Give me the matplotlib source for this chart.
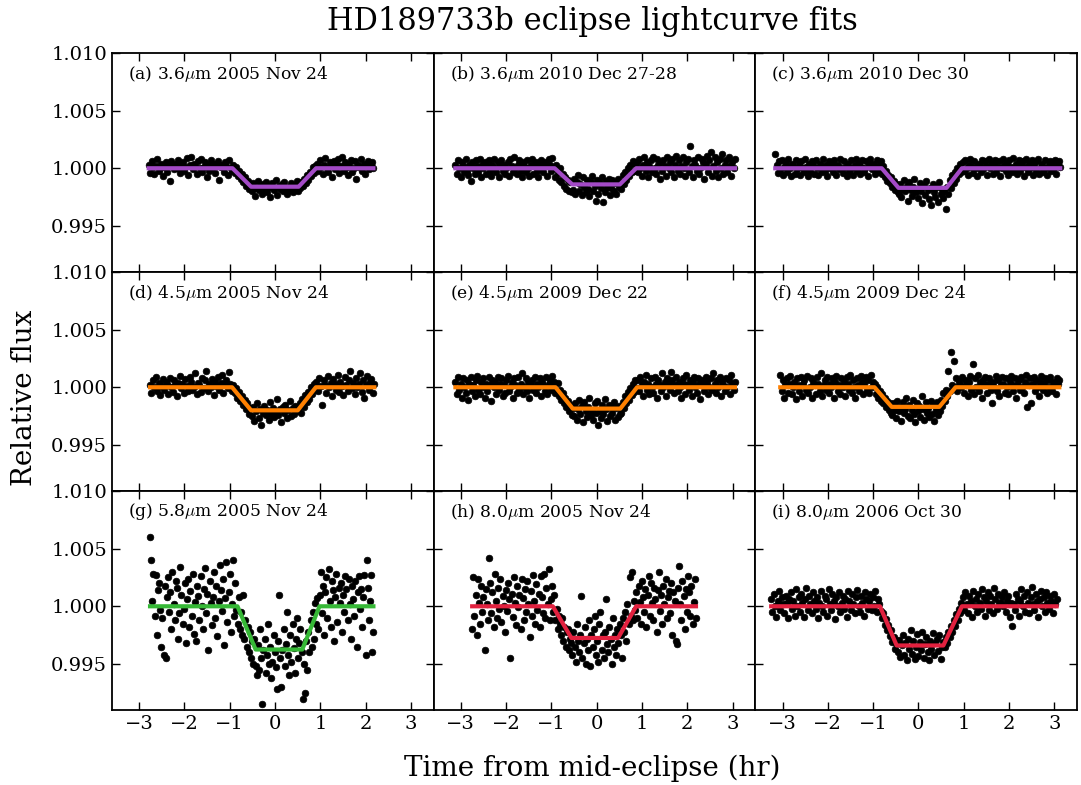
import numpy as np
import matplotlib.pyplot as plt
from matplotlib.ticker import FormatStrFormatter

plt.rcParams['font.family'] = 'DejaVu Serif'
plt.rcParams['mathtext.fontset'] = 'cm'

# panel titles
labels = [r'(a) 3.6$\mu$m 2005 Nov 24', r'(b) 3.6$\mu$m 2010 Dec 27-28', r'(c) 3.6$\mu$m 2010 Dec 30',
          r'(d) 4.5$\mu$m 2005 Nov 24', r'(e) 4.5$\mu$m 2009 Dec 22', r'(f) 4.5$\mu$m 2009 Dec 24',
          r'(g) 5.8$\mu$m 2005 Nov 24', r'(h) 8.0$\mu$m 2005 Nov 24', r'(i) 8.0$\mu$m 2006 Oct 30']
fit_colors = ['#A34AC6', '#A34AC6', '#A34AC6', '#FF8000', '#FF8000', '#FF8000',
              '#36B836', '#E2213F', '#E2213F']

# time span of each lightcurve (hr from mid-eclipse), evenly sampled
t_span_a = (-2.79, 2.17)
t_span_b = (-3.12, 3.05)
t_span_c = (-3.16, 3.13)
t_span_d = (-2.76, 2.19)
t_span_e = (-3.12, 3.05)
t_span_f = (-3.05, 3.11)
t_span_g = (-2.76, 2.17)
t_span_h = (-2.75, 2.19)
t_span_i = (-3.25, 3.05)

# binned flux, (relative flux - 1) in units of 1e-4
flux_a = [3, -4, 6, 1, -5, 2, 8, -2, 0, 4, -7, 1, 5, -3, 2, -11, 6, 3, -1, 4,
          0, 7, -4, 2, 5, -2, 1, 9, -6, 3, 10, -1, 4, 2, -5, 6, 0, 8, -3, 1,
          5, -8, 3, -2, 7, 0, 4, -4, 2, 6, -10, 1, 3, -3, 5, 2, -6, 7, 0, -2,
          3, -4, 1, -7, -2, -9, -5, -12, -8, -15, -11, -18, -14,
          -20, -13, -24, -17, -11, -19, -15, -22, -14, -18, -12, -21, -16, -25, -13, -17, -19, -10, -23, -15,
          -18, -14, -20, -12, -17, -22, -16, -19, -13, -21, -15, -18, -11, -20,
          -17, -12, -15, -9, -13, -6, -10, -3, -7, 1, -4, 2,
          4, -2, 7, 1, -5, 3, 9, 0, -3, 5, 2, -8, 6, -1, 3, 8, -4, 2, 10, -2,
          5, 1, -6, 4, 7, -3, 0, 6, -9, 3, 1, 8, -2, 4, -5, 2, 6, -1, 3, 5, 0]
flux_b = [3, -5, 7, 0, -8, 5, 2, -3, 8, -2, -6, 3, -11, 5, 0, -5, 7, 2, -3, 8,
          -8, 3, 0, 5, -5, 2, 7, -2, -7, 3, 8, 0, -3, 5, -8, 2, 7, -2, 3, -5,
          0, 5, -7, 8, 2, -3, 10, 0, -5, 3, 7, -2, -8, 5, 2, -3, 7, 0, -7, 3,
          8, -5, 2, 5, -2, -8, 3, 7, 0, -3, 5, 2, -7, 8, 3, -2, 9, 0,
          -8, 3, -4, -10, 0, -12, -5, -15, -8, -18, -10, -20, -12, -21,
          -19, -9, -22, -12, -6, -20, -14, -23, -8, -16, -21, -10, -18, -24, -12, -7, -20, -15, -28, -10,
          -22, -13, -17, -8, -29, -21, -11, -16, -9, -23, -17, -10, -20, -13, -22, -9, -16,
          -12, -18, -6, -14, -3, -10, 0, -7, 3, -3, 6, -2, 4,
          5, -3, 8, 0, -7, 3, 10, -2, 5, -8, 2, 7, -3, 10, 0, -5, 8, 3, -9, 5,
          -2, 7, 2, -7, 10, 0, 5, -3, 8, -8, 3, 11, -2, 7, -5, 2, 10, 0, -7, 5,
          8, -3, 19, 2, -8, 7, 3, -2, 10, -5, 0, 8, 5, -9, 3, 11, -3, 7, 14, -7,
          2, 10, -2, 5, -8, 8, 0, 12, -5, 3, 7, -3, 10, 2, -7, 5, 0, 8]
flux_c = [12, 3, -4, 6, -2, 7, -6, 1, 4, -3, 8, 0, -7, 4, 2, -5, 7, -1, 3, -6,
          6, 0, -3, 8, 1, -7, 4, -2, 6, 3, -5, 7, 0, -6, 4, 2, -3, 8, -2, 3,
          -7, 6, 0, 4, -3, 7, 2, -6, 3, -1, 8, 0, -4, 6, 1, -7, 4, -3, 7, 0,
          -6, 3, 8, -2, 4, -5, 1, 7, -3, 0, 6, -7, 3, 8, -1, 4, 0, -5, 7, 2, -3, 6,
          -5, 2, -8, -2, -11, -6, -13, -8, -16, -11, -19, -14, -21,
          -22, -14, -25, -18, -10, -20, -15, -28, -12, -19, -24, -16, -9, -21, -18, -26, -13, -20, -30, -15,
          -23, -11, -19, -27, -17, -32, -14, -21, -25, -16, -29, -12, -22, -18, -26, -20, -35,
          -16, -22, -10, -17, -6, -13, -3, -9, 0, -5, 4, -3,
          5, -2, 7, 0, -6, 3, 8, 1, -4, 6, 0, -7, 4, 3, -3, 7, -1, 6, 2, -6,
          8, 0, 4, -5, 3, 7, -3, 1, 6, -7, 0, 8, 3, -2, 4, -6, 7, 1, -3, 9,
          0, 4, -5, 7, -2, 3, 6, -7, 1, 8, -3, 4, 0, 7, -6, 3, -2, 6, 8, -5,
          1, 4, -3, 7, 0, -6, 3, 6, -2, 4, 0, 7, -5, 3, 6, 1]
flux_d = [2, -5, 6, 0, 9, -3, 4, -7, 1, 7, -2, 5, 3, -6, 8, 0, -4, 6, 2, -8,
          4, 10, -1, 3, -5, 7, 1, -3, 9, 5, -2, 0, 12, -6, 4, 2, -4, 8, -1, 6,
          14, -3, 3, 0, 7, -7, 5, 1, 9, -2, 4, 11, -5, 2, 6, -1, 13, 3, -3,
          2, -5, -1, -9, -4, -12, -8, -15, -11, -19, -14, -23, -18,
          -25, -17, -29, -21, -14, -27, -19, -33, -22, -16, -24, -20, -28, -13, -23, -18, -26, -21, -10, -24,
          -19, -30, -17, -22, -15, -27, -20, -12, -25, -18, -23, -16, -21,
          -19, -14, -22, -10, -17, -7, -13, -4, -10, 0, -6, 3, -2,
          5, -3, 8, 1, -15, 6, 2, -5, 10, 0, 4, -8, 7, 3, -2, 11, -4, 5, 1, -7,
          9, 2, -3, 6, 14, -1, 4, -6, 8, 0, 3, 12, -4, 6, -9, 2, 10, -2, 5, 7, -5, 3]
flux_e = [5, -6, 9, -2, 3, -9, 8, 0, -5, 6, -11, 3, 9, -3, 2, -8, 6, 10, -2, -6,
          5, 0, 8, -9, 3, -3, 9, 2, -12, 6, 0, 5, -6, 9, -2, 3, 8, -8, 2, -5,
          6, 10, -3, 0, 5, -9, 8, 2, -5, 9, -2, 3, 12, -6, 0, 8, -3, 5, -9, 2,
          6, -2, 9, -5, 3, 0, 8, -8, 5, 2, -3, 9, -6, 3, 6, -2, 10, 5, -5,
          -4, 4, -8, -2, -11, -5, -14, -9, -17, -12, -21, -15, -24, -18,
          -25, -14, -28, -19, -11, -23, -16, -30, -13, -21, -26, -17, -9, -24, -20, -28, -14, -22, -12, -33,
          -21, -27, -15, -23, -10, -19, -29, -15, -25, -17, -22, -13, -28, -18, -26, -16, -23,
          -22, -13, -18, -8, -14, -4, -11, -1, -7, 3, -4, 6, -1,
          6, -3, 9, 2, -8, 5, 11, -2, 3, -6, 8, 0, -5, 9, 3, -9, 6, 2, -3, 12,
          0, 5, -8, 8, 3, -2, 13, 6, -5, 2, 9, -3, 5, 0, -9, 8, 3, -6, 11, 2,
          -2, 6, -8, 5, 9, 0, -5, 8, 3, -10, 6, 2, -3, 9, 5, -6, 0, 8, -2, 12,
          3, -5, 6, 0, 9, -8, 5, 2, -3, 8, 0, 6, -6, 11, 3, -2, 5]
flux_f = [11, -3, 6, -9, 2, 8, -5, 3, 10, -6, 0, 5, -10, 8, 2, -3, 9, -8, 3, 6,
          -2, 10, -5, 0, 8, -9, 5, 2, -6, 9, 3, -3, 12, -8, 2, 6, -2, 9, -5, 3,
          0, 8, -9, 5, 10, -3, 2, -6, 8, 0, 5, -8, 9, 3, -2, 11, -5, 6, 0, -9,
          8, 2, -3, 10, 5, -6, 3, 9, -2, 6, -5, 11, 0, 5,
          3, -6, 0, -9, -3, -12, -6, -14, -9, -17, -12, -20, -14, -22,
          -24, -14, -20, -27, -12, -21, -17, -29, -13, -22, -19, -9, -25, -15, -27, -20, -11, -23, -30, -14,
          -21, -16, -26, -8, -19, -28, -13, -22, -18, -26, -12, -23, -15, -29, -20, -13, -24,
          -21, -11, -16, -5, -12, -2, -8, 14, -3, 31, 2, 23, 0,
          8, -3, 5, 2, 0, 9, -5, 6, 2, -8, 5, 10, -2, 20, -6, 8, 0, 11, -3, 5,
          -9, 6, 2, 9, -5, 3, 8, -2, -14, 5, 0, 10, -3, 6, -8, 2, 9, 3, -5, 8,
          0, -6, 5, 10, 2, -3, 8, -9, 3, 6, -2, 9, 0, -5, 5, 11, -17, 2, 8, -14,
          3, 9, -3, 6, 0, -8, 5, 10, -2, 3, 8, -5, 6, 0, 9, -3, 5, 2, -6, 8, 3, 6]
flux_g = [60, 40, 5, 28, -8, 27, -25, 14, 20, -3, -35, -10, -42, 18, -45, 8, 25, -5, 12, -20,
          30, 2, -12, 22, 16, -28, -6, 34, 10, -15, -2, 20, -32, 6, 24, -18, 13, -8, 28, -24,
          4, -30, 18, 9, -12, 26, 0, -20, 15, 33, -6, 11, -38, 22, 3, -16, 8, 30, -10, 18,
          -26, 5, 36, 14, -4, 24, -34, 7, 38, -14, 12, 28, -22, 2, 40, -8, 20, -3,
          -15, 8, -20, -5, -25, 10, -28, -12, -35, -18, -40, -22, -45, -30, -50, -28, -52,
          -60, -34, -55, -20, -45, -85, -38, -28, -58, -42, -15, -50, -35, -62, -48, -25, -40, -53, -72, -30,
          10, -45, -70, -38, -20, -52, -33, -5, -42, -60, -25, -48, -15, -36, -58, -28, -10, -45, -32, -20, -40,
          -80, -50, -75, -30, -55, -22, -40, -12, -35, -5, -28, 3, -15, 7, -20, 10,
          30, -6, 18, -25, 12, 25, -10, 32, 5, -18, 22, 14, -30, 8, 28, -14, 16, 3, 20, -22,
          10, -5, 26, 15, -12, 24, 2, -28, 18, 6, -8, 22, -35, 12, 26, -2, 15, -18, 8, 27,
          -42, 40, 16, -12, 5, 27, -40, -22]
flux_h = [-20, 25, -8, 10, -25, 24, 3, -15, 18, -5, 8, -38, 15, 2, -12, 42, 20, -6, 12, -18,
          28, 5, -10, 16, -2, 24, -14, 9, 0, -22, 14, -4, 20, 6, -45, 11, -9, 25, 3, -16,
          18, -1, 10, -20, 24, 7, -12, 15, -5, 22, 2, -27, 13, -8, 27, 5, -15, 19, -3, 11,
          -18, 26, 8, -6, 28, -10, 16, 2, 32, -12, 6, 18,
          -5, 10, -12, -2, -20, -8, -15, -25, -10, -30, -18, -35, -22, -20, -38, -28, -32,
          -42, -22, -35, -48, -15, -30, -40, -25, 9, -45, -32, -18, -50, -28, -38, -12, -52, -25, -35, -20,
          -8, -42, -30, -48, -15, -5, -38, -25, -45, -22, 6, -33, -40, -18, -28, -50, -10, -35, -25, -42, -20,
          -32, -15, -25, -45, -10, -22, -5, -30, 2, -15, 25, -8, 30, -12, 5, -3,
          12, -10, 18, 4, -15, 22, 8, -5, 15, -18, 10, 26, -8, 20, 3, -12, 16, 6, -22, 14,
          30, -4, 10, -15, 18, 2, 24, -10, 8, 13, -6, 20, -25, 12, 5, -30, -33, 16, 35, 2,
          -12, 22, 9, -20, 15, -5, 26, 12, -8, 18, -15, 4, 24, -10]
flux_i = [6, -5, 11, 0, -9, 5, 13, -3, 8, 2, -6, 9, 3, -10, 6, 12, -2, 5, -8, 15,
          0, 8, -5, 11, 3, -9, 6, 16, -3, 9, 2, -6, 12, 5, -2, 8, -10, 3, 13, 0,
          -5, 9, 6, -8, 15, 2, -3, 11, 5, -11, 8, 0, 12, -5, 3, 9, -2, 6, -9, 13,
          5, -3, 11, 2, -6, 8, 14, 0, -5, 9, 3, -8, 12, 6, -2, 5, 11, -3, 8, 0, 13, -5, 6, 2,
          -4, -10, -6, -16, -11, -21, -16, -26, -21, -31, -27, -37, -32,
          -40, -29, -44, -34, -25, -42, -32, -47, -28, -37, -21, -41, -30, -46, -35, -24, -43, -31, -38, -22,
          -45, -33, -27, -40, -47, -30, -37, -23, -42, -32, -28, -39, -25, -46, -35, -31,
          -35, -27, -32, -22, -27, -17, -22, -12, -17, -7, -12, -2, -6, 3,
          8, -3, 12, 2, -6, 9, 5, -9, 13, 0, 6, -5, 11, 3, -2, 15, 8, -8, 5, 12,
          -3, 9, 2, -6, 16, 6, -2, 11, 3, 3, 8, 0, 12, -5, 5, 9, -9, 3, -17, 2,
          -3, 11, 6, -8, 5, 15, 0, 9, -5, 12, 3, -6, 8, 17, 2, -3, 11, 5, -9, 6,
          13, 0, 8, -5, 12, 3, -2, 9, 5, -6, 11, 2, 6]

# eclipse model knots (hr, flux offset in 1e-4)
fit_t_a = [-2.79, -0.94, -0.53, 0.52, 0.905, 2.17]
fit_f_a = [0, 0, -16, -16, 0, 0]
fit_t_b = [-3.12, -0.93, -0.54, 0.51, 0.87, 3.05]
fit_f_b = [0, 0, -14, -14, 0, 0]
fit_t_c = [-3.16, -0.81, -0.44, 0.62, 0.96, 3.13]
fit_f_c = [0, 0, -17, -17, 0, 0]
fit_t_d = [-2.76, -0.95, -0.53, 0.50, 0.90, 2.19]
fit_f_d = [0, 0, -20, -20, 0, 0]
fit_t_e = [-3.12, -0.91, -0.53, 0.52, 0.89, 3.05]
fit_f_e = [0, 0, -18.5, -18.5, 0, 0]
fit_t_f = [-3.05, -0.97, -0.59, 0.46, 0.82, 3.11]
fit_f_f = [0, 0, -17, -17, 0, 0]
fit_t_g = [-2.76, -0.83, -0.43, 0.60, 0.98, 2.17]
fit_f_g = [0, 0, -37.5, -37.5, 0, 0]
fit_t_h = [-2.75, -0.97, -0.56, 0.47, 0.87, 2.19]
fit_f_h = [0, 0, -27.5, -27.5, 0, 0]
fit_t_i = [-3.25, -0.85, -0.48, 0.55, 0.96, 3.05]
fit_f_i = [0, 0, -34, -34, 0, 0]

spans = [t_span_a, t_span_b, t_span_c, t_span_d, t_span_e, t_span_f, t_span_g, t_span_h, t_span_i]
fluxes = [flux_a, flux_b, flux_c, flux_d, flux_e, flux_f, flux_g, flux_h, flux_i]
fit_ts = [fit_t_a, fit_t_b, fit_t_c, fit_t_d, fit_t_e, fit_t_f, fit_t_g, fit_t_h, fit_t_i]
fit_fs = [fit_f_a, fit_f_b, fit_f_c, fit_f_d, fit_f_e, fit_f_f, fit_f_g, fit_f_h, fit_f_i]

fig, axes = plt.subplots(3, 3, sharex=True, sharey=True, figsize=(10.81, 7.85), dpi=100)
fig.subplots_adjust(left=0.1036, right=0.9963, top=0.9325, bottom=0.0955, hspace=0, wspace=0)

for k, ax in enumerate(axes.flat):
    f = 1 + np.array(fluxes[k]) * 1e-4
    t = np.linspace(spans[k][0], spans[k][1], len(f))
    ax.plot(t, f, 'o', color='k', ms=4.8, mec='k', mew=0.5)
    ax.plot(fit_ts[k], 1 + np.array(fit_fs[k]) * 1e-4, '-', color=fit_colors[k], lw=3)
    ax.text(0.05, 0.905, labels[k], transform=ax.transAxes, fontsize=12.3, va='center', ha='left')
    ax.tick_params(direction='in', top=True, right=True, length=6, width=1, labelsize=14)
    for s in ax.spines.values():
        s.set_linewidth(1.3)

ax = axes[0, 0]
ax.set_xlim(-3.6, 3.5)
ax.set_ylim(0.991, 1.010)
ax.set_xticks([-3, -2, -1, 0, 1, 2, 3])
ax.set_yticks([0.995, 1.000, 1.005, 1.010])
ax.yaxis.set_major_formatter(FormatStrFormatter('%.3f'))

fig.text(0.548, 0.972, 'HD189733b eclipse lightcurve fits', fontsize=22, ha='center', va='center')
fig.text(0.548, 0.0217, 'Time from mid-eclipse (hr)', fontsize=20, ha='center', va='center')
fig.text(0.023, 0.493, 'Relative flux', fontsize=20, ha='center', va='center', rotation=90)

plt.savefig('out.png', dpi=100)
